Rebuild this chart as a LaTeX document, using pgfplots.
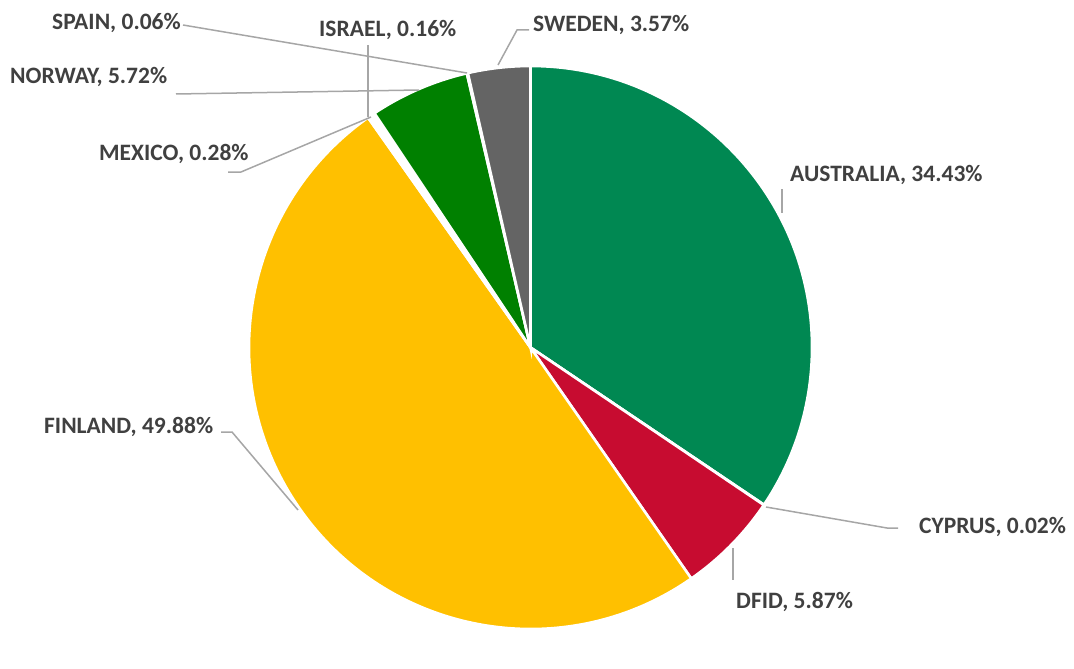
\documentclass[border=0pt]{standalone}
\usepackage{pgfplots}
\pgfplotsset{compat=1.18}
\usepackage{fontspec}
\setmainfont{Carlito}
\definecolor{aus}{HTML}{008852}
\definecolor{cyp}{HTML}{4472C4}
\definecolor{dfid}{HTML}{C70C30}
\definecolor{fin}{HTML}{FFC000}
\definecolor{mex}{HTML}{FFFFFF}
\definecolor{isr}{HTML}{FFC000}
\definecolor{nor}{HTML}{008000}
\definecolor{spa}{HTML}{A5A5A5}
\definecolor{swe}{HTML}{646464}
\definecolor{lbl}{HTML}{404040}
\definecolor{ldr}{HTML}{A6A6A6}
% slice: start cumulative %, end cumulative %, colour  (3.60036 deg per %, total 99.99)
\newcommand\slice[3]{%
  \filldraw[fill=#3, draw=white, line width=2.6pt, line join=miter]
    (axis cs:530.5,347.5) -- ++({90-#1*3.60036}:281.5pt)
    arc[start angle={90-#1*3.60036}, end angle={90-#2*3.60036}, radius=281.5pt] -- cycle;}
\newcommand\lab[3]{\node[anchor=base west, inner sep=0pt, text=lbl,
  font=\fontsize{23.5}{28}\selectfont\bfseries] at (axis cs:#1,#2) {#3};}
\begin{document}
\begin{tikzpicture}
\begin{axis}[
  width=1074pt, height=629pt, scale only axis,
  xmin=0, xmax=1074, ymin=0, ymax=629, y dir=reverse,
  hide axis, clip=false]
\addplot[draw=none] coordinates {(0,0) (1074,629)};
\path (axis cs:0,0) rectangle (axis cs:1074,629);
% values (percent): Australia 34.43, Cyprus 0.02, DFID 5.87, Finland 49.88,
% Mexico 0.28, Israel 0.16, Norway 5.72, Spain 0.06, Sweden 3.57
\slice{0}{34.43}{aus}
\slice{34.43}{34.45}{cyp}
\slice{34.45}{40.32}{dfid}
\slice{40.32}{90.20}{fin}
\slice{90.20}{90.48}{mex}
\slice{90.48}{90.64}{isr}
\slice{90.64}{96.36}{nor}
\slice{96.36}{96.42}{spa}
\slice{96.42}{99.99}{swe}
% leader lines
\begin{scope}[draw=ldr, line width=1.5pt]
\draw (axis cs:183,25) -- (axis cs:467,73);
\draw (axis cs:368,45) -- (axis cs:368,117);
\draw (axis cs:176,94) -- (axis cs:419,90);
\draw (axis cs:228,172) -- (axis cs:241,172) -- (axis cs:371,117);
\draw (axis cs:529,30) -- (axis cs:517,30) -- (axis cs:498,65);
\draw (axis cs:782,189) -- (axis cs:782,213);
\draw (axis cs:766,507) -- (axis cs:887,528) -- (axis cs:898,528);
\draw (axis cs:733,548) -- (axis cs:733,580);
\draw (axis cs:221,432) -- (axis cs:232,432) -- (axis cs:298,510);
\end{scope}
% labels
\lab{52}{29.3}{SPAIN, 0.06\%}
\lab{319}{37}{ISRAEL, 0.16\%}
\lab{10}{84}{NORWAY, 5.72\%}
\lab{99}{160}{MEXICO, 0.28\%}
\lab{533}{32}{SWEDEN, 3.57\%}
\lab{790}{181.5}{AUSTRALIA, 34.43\%}
\lab{919}{533}{CYPRUS, 0.02\%}
\lab{736}{608}{DFID, 5.87\%}
\lab{44}{433}{FINLAND, 49.88\%}
\end{axis}
\end{tikzpicture}
\end{document}
